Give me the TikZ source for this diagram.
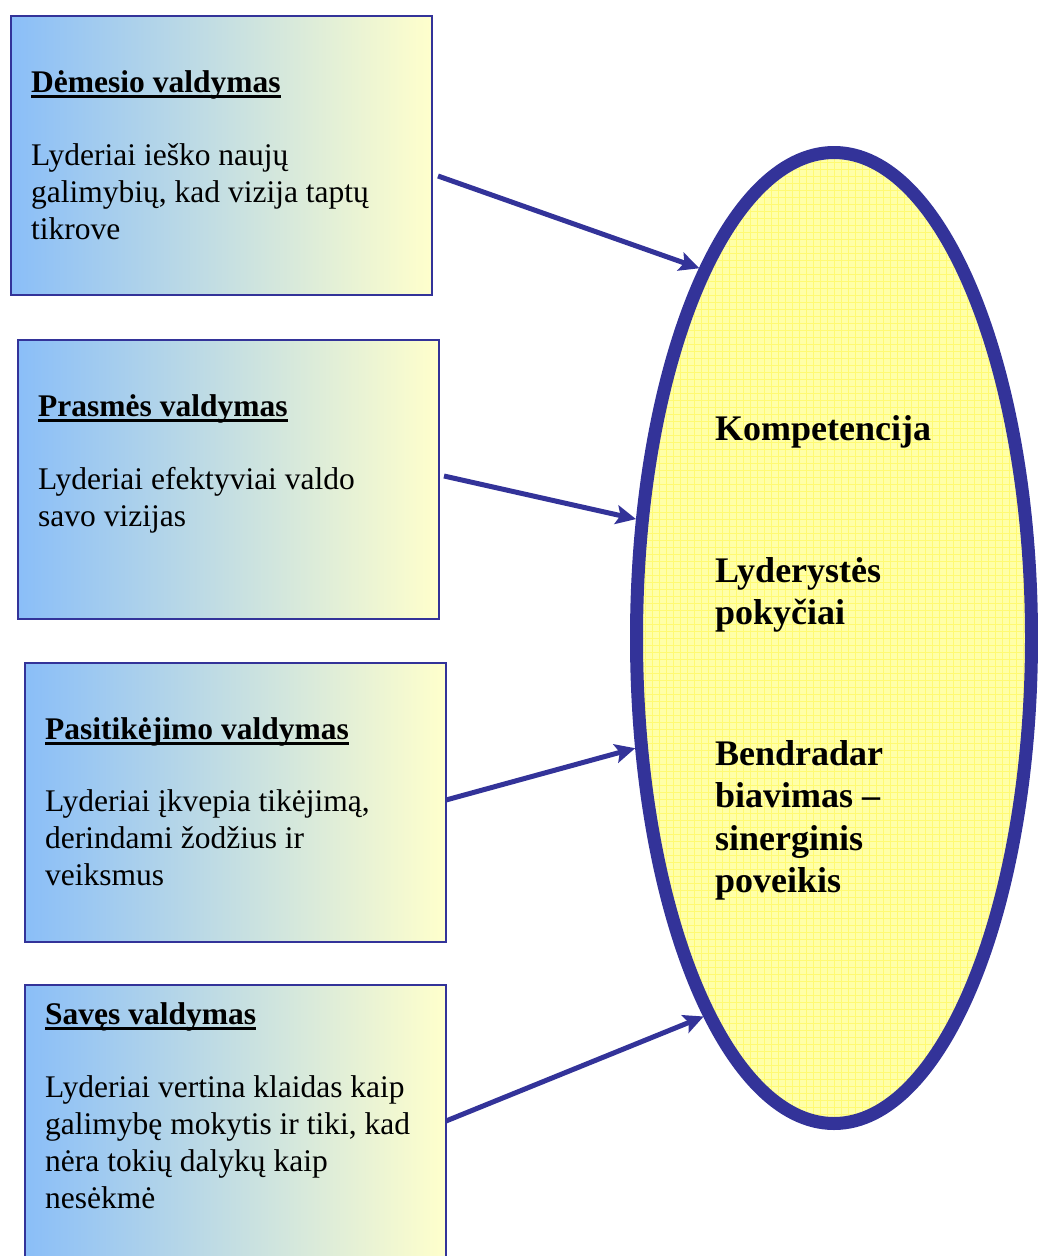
\documentclass[tikz,border=0pt]{standalone}
\usepackage{fontspec}
\setmainfont{Liberation Serif}
\usetikzlibrary{shapes.geometric,arrows.meta}
\definecolor{navy}{RGB}{51,51,153}
\definecolor{boxleft}{RGB}{138,190,248}
\definecolor{boxright}{RGB}{255,255,204}
\definecolor{ellfill}{RGB}{255,255,168}
\definecolor{ellgrid}{RGB}{255,250,115}
\newcommand\ULtitle[1]{\setbox0\hbox{#1}\rlap{\rule[-6pt]{\wd0}{2.6pt}}\box0}
\newcommand\bodyfnt{\fontsize{31.5}{37}\selectfont}
\newcommand\titlefnt{\fontsize{31.5}{37}\selectfont\bfseries}
\newcommand\ellfnt{\fontsize{36}{42.6}\selectfont\bfseries}
\begin{document}
\begin{tikzpicture}[x=1pt,y=-1pt,
  panel/.style={draw=navy, line width=2pt, left color=boxleft, right color=boxright,
    minimum width=421pt, minimum height=279pt, anchor=north west, inner sep=0pt},
  ttl/.style={anchor=base west, inner sep=0pt, font=\titlefnt},
  body/.style={anchor=base west, inner sep=0pt, font=\bodyfnt},
  elltxt/.style={anchor=base west, inner sep=0pt, font=\ellfnt},
  conn/.style={draw=navy, line width=5pt, -{Stealth[length=20pt,width=19pt,inset=4pt,fill=navy]}}]
\useasboundingbox (0,0) rectangle (1038,1256);
\clip (0,0) rectangle (1038,1256);

% boxes
\node[panel] (b1) at (10,15) {};
\node[panel] (b2) at (17,339) {};
\node[panel] (b3) at (24,662) {};
\node[panel] (b4) at (24,984) {};

% box texts
\node[ttl] (t1) at (31,92) {\ULtitle{Dėmesio valdymas}};
\node[body] (d1) at (31,165) {\begin{tabular}[t]{@{}l@{}}Lyderiai ieško naujų\\galimybių, kad vizija taptų\\tikrove\end{tabular}};
\node[ttl] (t2) at (38,416) {\ULtitle{Prasmės valdymas}};
\node[body] (d2) at (38,489) {\begin{tabular}[t]{@{}l@{}}Lyderiai efektyviai valdo\\savo vizijas\end{tabular}};
\node[ttl] (t3) at (45,739) {\ULtitle{Pasitikėjimo valdymas}};
\node[body] (d3) at (45,811) {\begin{tabular}[t]{@{}l@{}}Lyderiai įkvepia tikėjimą,\\derindami žodžius ir\\veiksmus\end{tabular}};
\node[ttl] (t4) at (45,1024) {\ULtitle{Savęs valdymas}};
\node[body] (d4) at (45,1097) {\begin{tabular}[t]{@{}l@{}}Lyderiai vertina klaidas kaip\\galimybę mokytis ir tiki, kad\\nėra tokių dalykų kaip\\nesėkmė\end{tabular}};

% ellipse
\node[ellipse, draw=navy, line width=13pt, fill=ellfill, minimum width=395pt, minimum height=971pt, inner sep=0pt,
  path picture={\draw[ellgrid, line width=0.7pt] (path picture bounding box.south west) grid[step=7pt] (path picture bounding box.north east);}]
  (ell) at (834,638) {};

\node[elltxt] (e1) at (715,440) {Kompetencija};
\node[elltxt] (e2) at (715,582) {\begin{tabular}[t]{@{}l@{}}Lyderystės\\pokyčiai\end{tabular}};
\node[elltxt] (e3) at (715,765) {\begin{tabular}[t]{@{}l@{}}Bendradar\\biavimas –\\sinerginis\\poveikis\end{tabular}};

% connectors
\coordinate (s1) at (438,176);
\coordinate (s2) at (444,476);
\coordinate (s3) at (446,800);
\coordinate (s4) at (446,1121);
\draw[conn] (s1) -- (ell.110.6);
\draw[conn] (s2) -- (ell.149.7);
\draw[conn] (s3) -- (ell.209.9);
\draw[conn] (s4) -- (ell.251.6);
\end{tikzpicture}
\end{document}
